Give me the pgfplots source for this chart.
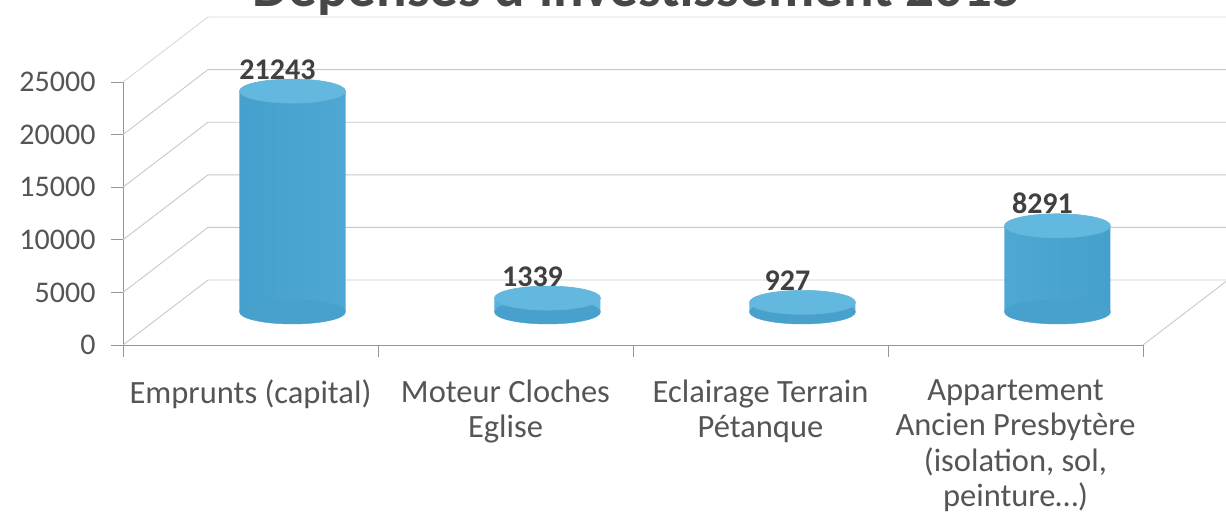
\documentclass[border=0pt]{standalone}
\usepackage{fontspec}
\setmainfont{Carlito}
\usepackage{pgfplots}
\pgfplotsset{compat=1.18}
\definecolor{gridc}{RGB}{200,200,200}
\definecolor{axc}{RGB}{150,150,150}
\definecolor{tickc}{RGB}{85,85,85}
\definecolor{cylmid}{RGB}{100,190,228}
\definecolor{cyledge}{RGB}{70,160,205}
\definecolor{cyltop}{RGB}{98,184,222}
\definecolor{cylbot}{RGB}{72,160,204}
\pgfdeclareplotmark{cyl}{%
  \pgfpathellipse{\pgfpointorigin}{\pgfpoint{53pt}{0pt}}{\pgfpoint{0pt}{12pt}}%
  \pgfusepathqfillstroke}
\begin{document}
\begin{tikzpicture}[x=1pt,y=1pt]
% front axis with ticks, labels and fake 3D walls
\begin{axis}[
  at={(123pt,180pt)}, anchor=south west,
  scale only axis, width=1020pt, height=263pt,
  xmin=-0.5, xmax=3.5, ymin=0, ymax=25000,
  clip=false,
  axis lines*=left,
  axis line style={axc, line width=0.8pt},
  ytick={0,5000,10000,15000,20000,25000},
  scaled y ticks=false,
  yticklabel style={font=\fontsize{30}{36}\selectfont, text=tickc, xshift=-12pt,
    /pgf/number format/fixed, /pgf/number format/precision=0,
    /pgf/number format/assume math mode=true, /pgf/number format/1000 sep={}},
  xtick={0,1,2,3},
  xticklabels={Emprunts (capital),{Moteur Cloches\\Eglise},{Eclairage Terrain\\Pétanque},{Appartement\\Ancien Presbytère\\(isolation, sol,\\peinture{\ldots})}},
  xticklabel style={font=\fontsize{32.5}{35.5}\selectfont, text=tickc, align=center, yshift=-19pt},
  minor xtick={-0.5,0.5,1.5,2.5,3.5},
  tick align=outside,
  major tick length=12pt,
  minor tick length=12pt,
  x tick style={draw=none},
  minor x tick style={draw=axc, line width=0.8pt},
  y tick style={draw=axc, line width=0.8pt},
]
\pgfplotsinvokeforeach{0,5000,10000,15000,20000}{
  \draw[gridc, line width=0.9pt] (axis cs:-0.5,#1) -- ++(85pt,65pt) -- ([xshift=105pt,yshift=65pt]axis cs:3.5,#1);
}
\draw[gridc!70, line width=0.9pt] (axis cs:-0.5,25000) -- ++(85pt,65pt) -- ([xshift=105pt,yshift=65pt]axis cs:3.5,25000);
\draw[gridc, line width=0.9pt] (axis cs:3.5,0) -- ++(85pt,65pt);
\end{axis}
% cylinders at mid depth
\begin{axis}[
  at={(165pt,213pt)}, anchor=south west,
  scale only axis, width=1020pt, height=260pt,
  xmin=-0.5, xmax=3.5, ymin=0, ymax=25000,
  hide axis, clip=false,
]
\addplot[only marks, mark=cyl, mark options={fill=cylbot, draw=cylbot}] coordinates {(0,0) (1,0) (2,0) (3,0)};
\addplot[ybar, bar width=106pt, bar shift=0pt, draw=none, left color=cyledge, right color=cyledge, middle color=cylmid] coordinates {(0,21243) (1,1339) (2,927) (3,8291)};
\addplot[only marks, mark=cyl, mark options={fill=cyltop, draw=cyledge!80, line width=0.6pt},
  point meta=explicit symbolic, nodes near coords,
  every node near coord/.append style={anchor=base, yshift=12pt, xshift=-15pt, font=\fontsize{30}{36}\selectfont\bfseries, text=black!75}]
  coordinates {(0,21243) [21243] (1,1339) [1339] (2,927) [927] (3,8291) [8291]};
\end{axis}
\node[anchor=base, font=\fontsize{57}{66}\selectfont\bfseries, text=black!72] at (637pt,518pt) {Dépenses d'investissement 2015};
\pgfresetboundingbox
\path[use as bounding box] (0,0) rectangle (1226pt,525pt);
\end{tikzpicture}
\end{document}
